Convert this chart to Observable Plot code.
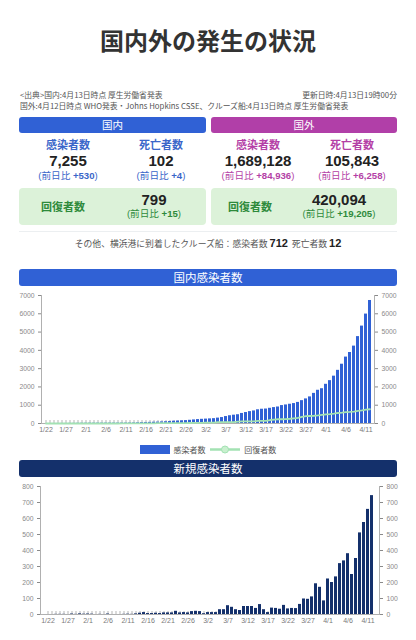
<!DOCTYPE html>
<html><head><meta charset="utf-8">
<script src="https://cdn.jsdelivr.net/npm/d3@7"></script>
<script src="https://cdn.jsdelivr.net/npm/@observablehq/plot@0.6"></script>
<style>
body{margin:0;background:#fff;font-family:"Liberation Sans","Noto Sans CJK JP",sans-serif;}
#root{position:relative;width:416px;height:640px;overflow:hidden;}
.a{position:absolute;white-space:nowrap;}
.hdr{color:#fff;font-size:10.5px;text-align:center;border-radius:3px;font-family:"Noto Sans CJK JP",sans-serif;}
.lab{font-size:11px;font-weight:bold;font-family:"Noto Sans CJK JP",sans-serif;line-height:14px;width:100px;text-align:center;}
.num{font-size:15px;font-weight:bold;color:#222;line-height:18px;width:120px;text-align:center;}
.diff{font-size:9.6px;line-height:12px;width:120px;text-align:center;font-family:"Liberation Sans","Noto Sans CJK JP",sans-serif;}
.diff b{font-weight:bold;}
.gbox{background:#dcf2d9;border-radius:4px;}
.src{font-size:7.8px;color:#555;line-height:9px;font-family:"Noto Sans CJK JP",sans-serif;}
.banner{color:#fff;font-size:11.5px;text-align:center;border-radius:3px;font-family:"Noto Sans CJK JP",sans-serif;line-height:17px;}
</style></head><body><div id="root"></div>
<script>
// ---------- data ----------
const titleText = "国内外の発生の状況";
const srcLine1 = "<出典>国内:4月13日時点 厚生労働省発表";
const srcUpdated = "更新日時:4月13日19時00分";
const srcLine2 = "国外:4月12日時点 WHO発表・Johns Hopkins CSSE、クルーズ船:4月13日時点 厚生労働省発表";
const regions = ["国内", "国外"];
const infected = ["7,255", "1,689,128"];
const infectedDiff = ["+530", "+84,936"];
const deaths = ["102", "105,843"];
const deathsDiff = ["+4", "+6,258"];
const recoveredTotal = ["799", "420,094"];
const recoveredDiff = ["+15", "+19,205"];
const cruiseInfected = "712";
const cruiseDeaths = "12";

const dates = ["1/22","1/23","1/24","1/25","1/26","1/27","1/28","1/29","1/30","1/31",
"2/1","2/2","2/3","2/4","2/5","2/6","2/7","2/8","2/9","2/10","2/11","2/12","2/13","2/14","2/15","2/16","2/17","2/18","2/19","2/20","2/21","2/22","2/23","2/24","2/25","2/26","2/27","2/28","2/29",
"3/1","3/2","3/3","3/4","3/5","3/6","3/7","3/8","3/9","3/10","3/11","3/12","3/13","3/14","3/15","3/16","3/17","3/18","3/19","3/20","3/21","3/22","3/23","3/24","3/25","3/26","3/27","3/28","3/29","3/30","3/31",
"4/1","4/2","4/3","4/4","4/5","4/6","4/7","4/8","4/9","4/10","4/11","4/12"];
const tickLabels = ["1/22","1/27","2/1","2/6","2/11","2/16","2/21","2/26","3/2","3/7","3/12","3/17","3/22","3/27","4/1","4/6","4/11"];

// cumulative domestic cases (bars, chart 1)
const cumulativeCases = [0,0,1,2,3,3,6,7,11,13,
16,18,18,19,19,22,22,22,22,23,25,26,30,38,50,56,62,70,76,86,96,106,126,136,148,158,176,196,214,
229,241,253,265,295,325,380,425,455,480,550,600,650,688,750,780,792,832,870,903,980,1015,1053,1090,1153,1250,1345,1455,1647,1817,1902,
2144,2344,2589,2907,3242,3632,3882,4232,4752,5327,5984,6727];
// cumulative recovered (line, chart 1)
const recovered = [0,0,0,0,0,0,0,0,1,1,
1,1,1,1,1,1,1,1,1,4,4,4,9,9,12,12,12,12,18,18,18,22,22,22,22,22,27,32,32,
32,43,43,46,76,76,76,76,80,102,118,118,118,118,144,144,144,191,215,232,232,240,260,285,310,359,400,410,424,444,472,
500,514,540,575,592,622,632,653,685,714,762,780];
// daily new cases (chart 2)
const newCases = [0,0,1,1,1,0,3,1,4,2,
3,2,0,1,0,3,0,0,0,1,2,1,4,8,12,6,6,8,6,10,10,10,20,10,12,10,18,20,18,
5,12,12,12,30,30,55,45,30,25,50,50,50,38,62,30,12,40,38,33,57,35,38,37,63,97,95,110,192,170,85,
222,200,235,318,335,380,250,350,510,575,657,743];

const yTicks1 = [0,1000,2000,3000,4000,5000,6000,7000];
const yTicks2 = [0,100,200,300,400,500,600,700,800];
const legendLabels = ["感染者数", "回復者数"];

// ---------- colors ----------
const blue = "#3061d5", purple = "#b13fa8", navy = "#14306b";
const blueText = "#3a66c9", purpleText = "#b43fa6", greenText = "#2e8a3b";
const lineGreen = "#a3e2b3";

const root = document.getElementById("root");
function el(html, style, cls) {
  const d = document.createElement("div");
  d.className = "a " + (cls || "");
  d.innerHTML = html;
  Object.assign(d.style, style);
  root.appendChild(d);
  return d;
}
// title
el(titleText, {left:"0px", top:"25px", width:"416px", textAlign:"center", fontSize:"24px", fontWeight:"bold", color:"#333", fontFamily:'"Noto Sans CJK JP",sans-serif', lineHeight:"30px"});
// sources
el(srcLine1.replace("<","&lt;").replace(">","&gt;"), {left:"20px", top:"90px"}, "src");
el(srcUpdated, {right:"19px", top:"90px"}, "src");
el(srcLine2, {left:"20px", top:"101px"}, "src");

// region panels
const panelLeft = [19, 211], panelWidth = [187, 186];
const colCenters = [[68, 161], [258, 352]];
const recCenters = [[63, 154], [250, 339]];
[0,1].forEach(k => {
  const col = k === 0 ? blue : purple, tcol = k === 0 ? blueText : purpleText;
  el(regions[k], {left:panelLeft[k]+"px", top:"117px", width:panelWidth[k]+"px", height:"16px", lineHeight:"16px", background:col}, "hdr");
  const labs = ["感染者数","死亡者数"], nums = [infected[k], deaths[k]], diffs = [infectedDiff[k], deathsDiff[k]];
  [0,1].forEach(j => {
    const cx = colCenters[k][j];
    el(labs[j], {left:(cx-50)+"px", top:"137px", color:tcol}, "lab");
    el(nums[j], {left:(cx-60)+"px", top:"152px"}, "num");
    el(`(前日比 <b>${diffs[j]}</b>)`, {left:(cx-60)+"px", top:"170px", color:tcol}, "diff");
  });
  el("", {left:panelLeft[k]+"px", top:"188px", width:panelWidth[k]+"px", height:"37px"}, "gbox");
  el("回復者数", {left:(recCenters[k][0]-50)+"px", top:"199px", color:greenText}, "lab");
  el(recoveredTotal[k], {left:(recCenters[k][1]-60)+"px", top:"191px"}, "num");
  el(`(前日比 <b>${recoveredDiff[k]}</b>)`, {left:(recCenters[k][1]-60)+"px", top:"208px", color:greenText}, "diff");
});
el("", {left:"19px", top:"231px", width:"378px", height:"1px", background:"#eceff1"});
el(`その他、横浜港に到着したクルーズ船：感染者数 <b style="font-size:11px;color:#222;font-family:'Liberation Sans',sans-serif">${cruiseInfected}</b>&nbsp; 死亡者数 <b style="font-size:11px;color:#222;font-family:'Liberation Sans',sans-serif">${cruiseDeaths}</b>`,
  {left:"0px", width:"416px", top:"236px", textAlign:"center", fontSize:"8.8px", color:"#555", lineHeight:"14px", fontFamily:'"Noto Sans CJK JP",sans-serif'});

// banners
el("国内感染者数", {left:"19px", top:"269px", width:"378px", height:"17px", background:blue}, "banner");
el("新規感染者数", {left:"19px", top:"460px", width:"378px", height:"17px", background:navy}, "banner");

// charts
function makeChart({values, color, yTicks, ml, mr, line}) {
  const data = dates.map((d, i) => ({date: d, v: values[i], r: line ? line[i] : null}));
  const axisStyle = {fontSize: 6.8, color: "#8a8a8a", label: null, tickSize: 3, tickPadding: 4, tickFormat: d => String(d)};
  const marks = [
    Plot.ruleX(dates, {x: d => d, y1: 0, y2: 0, insetTop: -3, stroke: "#b5b5b5"}),
    Plot.barY(data, {x: "date", y: "v", fill: color}),
    Plot.ruleY([0], {stroke: "#b0b0b0"}),
    Plot.frame({anchor: "left", stroke: "#b0b0b0"}),
    Plot.frame({anchor: "right", stroke: "#b0b0b0"}),
    Plot.axisY({anchor: "left", ticks: yTicks, ...axisStyle}),
    Plot.axisY({anchor: "right", ticks: yTicks, ...axisStyle}),
    Plot.axisX({ticks: tickLabels, fontSize: 7, color: "#7a7a7a", label: null, tickSize: 0, tickPadding: 4})
  ];
  if (line) marks.push(Plot.line(data, {x: "date", y: "r", stroke: lineGreen, strokeWidth: 1.8}));
  return Plot.plot({
    width: 416, height: 153,
    marginTop: 7, marginBottom: 18, marginLeft: ml, marginRight: mr,
    style: {fontFamily: '"Liberation Sans",sans-serif', background: "transparent"},
    x: {type: "band", domain: dates, paddingInner: 0.28, paddingOuter: 0.14},
    y: {domain: [yTicks[0], yTicks[yTicks.length - 1]]},
    marks
  });
}
const c1 = makeChart({values: cumulativeCases, color: blue, yTicks: yTicks1, ml: 41, mr: 42, line: recovered});
const w1 = el("", {left: "0px", top: "288px"}); w1.appendChild(c1);
const c2 = makeChart({values: newCases, color: navy, yTicks: yTicks2, ml: 40, mr: 37});
const w2 = el("", {left: "0px", top: "479px"}); w2.appendChild(c2);

// legend
el(`<span style="display:inline-block;width:30px;height:9px;background:${blue};vertical-align:middle"></span>
<span style="vertical-align:middle;margin-left:2px">${legendLabels[0]}</span>
<svg width="30" height="9" style="vertical-align:middle;margin-left:3px"><line x1="0" y1="4.5" x2="30" y2="4.5" stroke="${lineGreen}" stroke-width="2.5"/><circle cx="15" cy="4.5" r="3.5" fill="#c9f0cf" stroke="${lineGreen}" stroke-width="1"/></svg>
<span style="vertical-align:middle;margin-left:2px">${legendLabels[1]}</span>`,
  {left: "0px", width: "416px", top: "442px", textAlign: "center", fontSize: "8px", color: "#555", lineHeight: "13px", fontFamily: '"Noto Sans CJK JP",sans-serif'});
</script></body></html>
